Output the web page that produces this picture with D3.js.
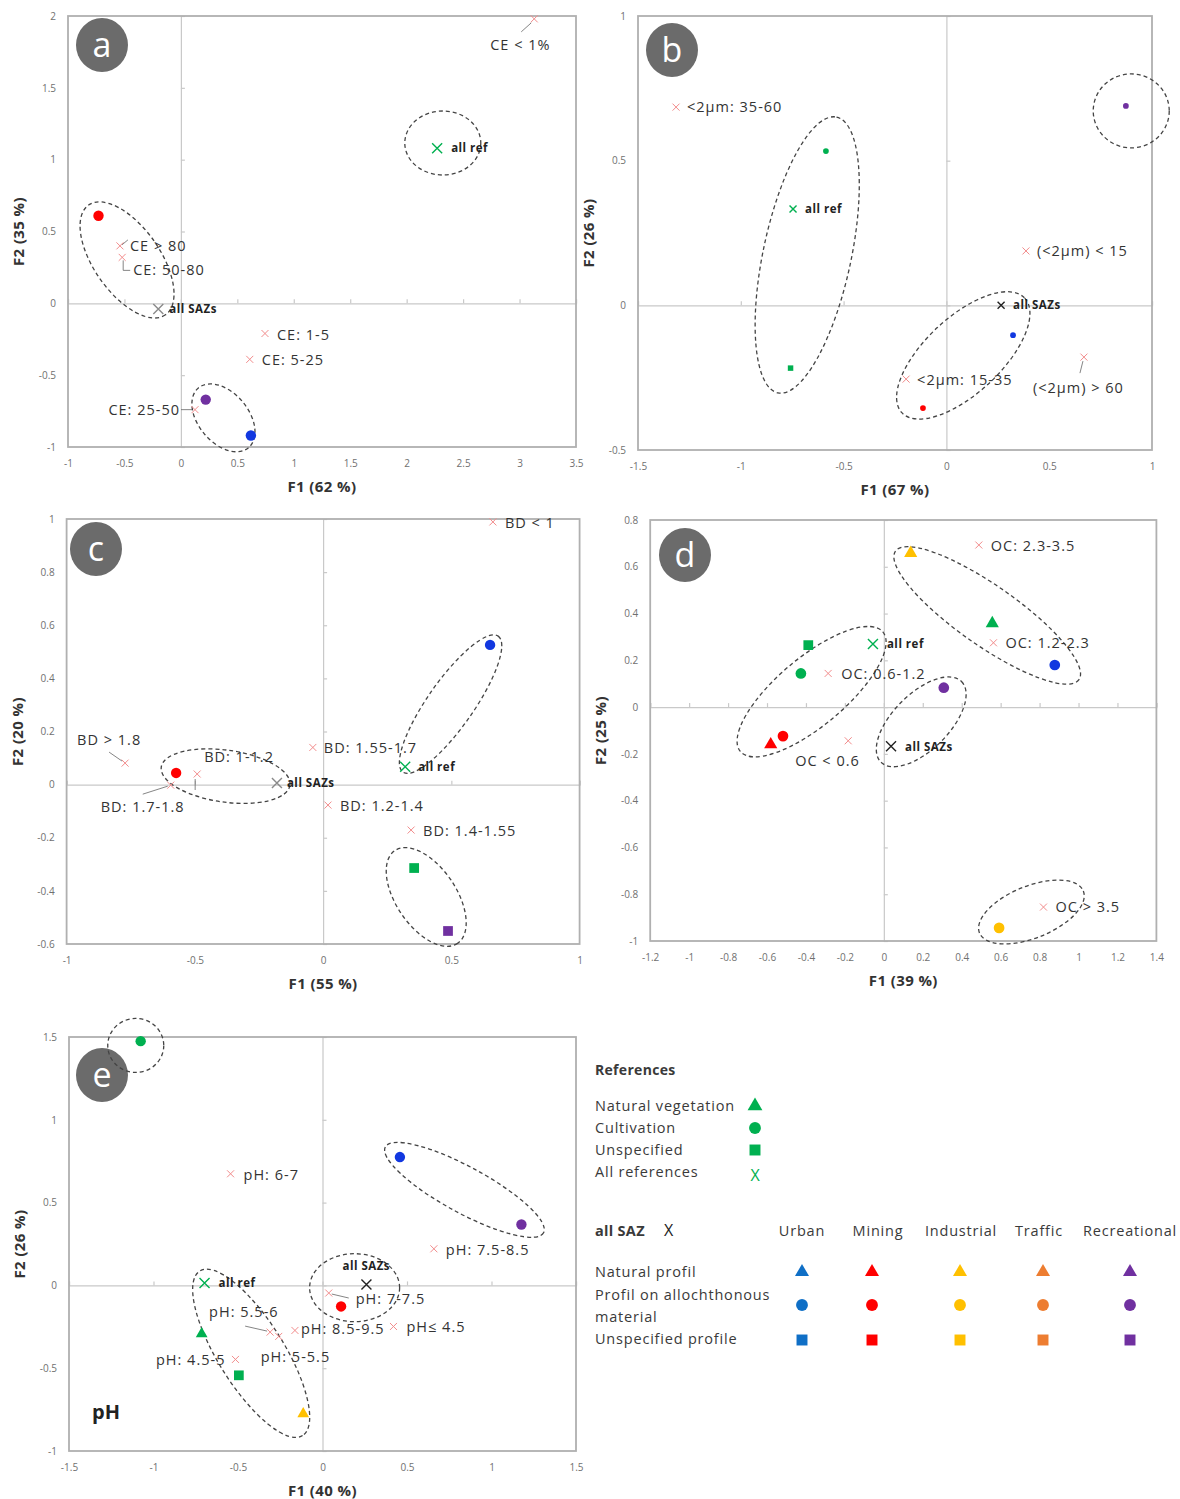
<!DOCTYPE html>
<html><head><meta charset="utf-8">
<script src="https://cdn.jsdelivr.net/npm/d3@7"></script>
<style>
body{margin:0;background:#fff;}
svg text{font-family:'Open Sans',Lato,sans-serif;}
</style>
</head><body>
<svg id="chart" width="1180" height="1499"></svg>
<script>
// ================= DATA =================
// Panel a – CE (%)
const aXTicks = [-1,-0.5,0,0.5,1,1.5,2,2.5,3,3.5];
const aYTicks = [-1,-0.5,0,0.5,1,1.5,2];
const aClasses = [
  {label:'CE < 1%', x:3.13, y:1.98},
  {label:'CE > 80', x:-0.54, y:0.40},
  {label:'CE: 50-80', x:-0.52, y:0.32},
  {label:'CE: 1-5', x:0.745, y:-0.21},
  {label:'CE: 5-25', x:0.61, y:-0.39},
  {label:'CE: 25-50', x:0.125, y:-0.74}
];
const aGroups = [
  {use:'mining', shape:'circle', x:-0.73, y:0.61},
  {use:'recreational', shape:'circle', x:0.22, y:-0.67},
  {use:'urban', shape:'circle', x:0.62, y:-0.92}
];
const aAllRef = {x:2.27, y:1.08};
const aAllSAZ = {x:-0.20, y:-0.04};
const aEllipses = [ {x:-0.477, y:0.302}, {x:2.32, y:1.116}, {x:0.377, y:-0.797} ];

// Panel b – clay <2µm (%)
const bXTicks = [-1.5,-1,-0.5,0,0.5,1];
const bYTicks = [-0.5,0,0.5,1];
const bClasses = [
  {label:'<2µm: 35-60', x:-1.315, y:0.685},
  {label:'(<2µm) < 15', x:0.387, y:0.188},
  {label:'<2µm: 15-35', x:-0.196, y:-0.255},
  {label:'(<2µm) > 60', x:0.669, y:-0.179}
];
const bGroups = [
  {use:'ref', shape:'circle', x:-0.586, y:0.533},
  {use:'ref', shape:'square', x:-0.758, y:-0.217},
  {use:'recreational', shape:'circle', x:0.873, y:0.689},
  {use:'urban', shape:'circle', x:0.324, y:-0.103},
  {use:'mining', shape:'circle', x:-0.114, y:-0.355}
];
const bAllRef = {x:-0.746, y:0.333};
const bAllSAZ = {x:0.266, y:0.0};
const bEllipses = [ {x:-0.677, y:0.174}, {x:0.082, y:-0.173}, {x:0.899, y:0.672} ];

// Panel c – bulk density
const cXTicks = [-1,-0.5,0,0.5,1];
const cYTicks = [-0.6,-0.4,-0.2,0,0.2,0.4,0.6,0.8,1];
const cClasses = [
  {label:'BD < 1', x:0.662, y:0.989},
  {label:'BD > 1.8', x:-0.772, y:0.081},
  {label:'BD: 1-1.2', x:-0.491, y:0.04},
  {label:'BD: 1.7-1.8', x:-0.594, y:-0.002},
  {label:'BD: 1.55-1.7', x:-0.04, y:0.14},
  {label:'BD: 1.2-1.4', x:0.019, y:-0.077},
  {label:'BD: 1.4-1.55', x:0.343, y:-0.171}
];
const cGroups = [
  {use:'urban', shape:'circle', x:0.651, y:0.526},
  {use:'mining', shape:'circle', x:-0.573, y:0.044},
  {use:'ref', shape:'square', x:0.355, y:-0.314},
  {use:'recreational', shape:'square', x:0.487, y:-0.551}
];
const cAllRef = {x:0.32, y:0.067};
const cAllSAZ = {x:-0.18, y:0.006};
const cEllipses = [ {x:-0.380, y:0.032}, {x:0.497, y:0.303}, {x:0.402, y:-0.423} ];

// Panel d – organic carbon
const dXTicks = [-1.2,-1,-0.8,-0.6,-0.4,-0.2,0,0.2,0.4,0.6,0.8,1,1.2,1.4];
const dYTicks = [-1,-0.8,-0.6,-0.4,-0.2,0,0.2,0.4,0.6,0.8];
const dClasses = [
  {label:'OC: 2.3-3.5', x:0.488, y:0.693},
  {label:'OC: 1.2-2.3', x:0.563, y:0.275},
  {label:'OC: 0.6-1.2', x:-0.286, y:0.144},
  {label:'OC < 0.6', x:-0.183, y:-0.144},
  {label:'OC > 3.5', x:0.82, y:-0.855}
];
const dGroups = [
  {use:'industrial', shape:'triangle', x:0.138, y:0.658},
  {use:'ref', shape:'triangle', x:0.557, y:0.358},
  {use:'urban', shape:'circle', x:0.878, y:0.18},
  {use:'ref', shape:'square', x:-0.388, y:0.265},
  {use:'ref', shape:'circle', x:-0.426, y:0.144},
  {use:'recreational', shape:'circle', x:0.308, y:0.083},
  {use:'mining', shape:'circle', x:-0.518, y:-0.124},
  {use:'mining', shape:'triangle', x:-0.581, y:-0.16},
  {use:'industrial', shape:'circle', x:0.592, y:-0.944}
];
const dAllRef = {x:-0.056, y:0.27};
const dAllSAZ = {x:0.037, y:-0.167};
const dEllipses = [ {x:0.531, y:0.392}, {x:-0.371, y:0.066}, {x:0.192, y:-0.063}, {x:0.758, y:-0.876} ];

// Panel e – pH
const eXTicks = [-1.5,-1,-0.5,0,0.5,1,1.5];
const eYTicks = [-1,-0.5,0,0.5,1,1.5];
const eClasses = [
  {label:'pH: 6-7', x:-0.544, y:0.674},
  {label:'pH: 7.5-8.5', x:0.659, y:0.221},
  {label:'pH:  7-7.5', x:0.037, y:-0.046},
  {label:'pH≤ 4.5', x:0.42, y:-0.248},
  {label:'pH: 8.5-9.5', x:-0.163, y:-0.272},
  {label:'pH: 5.5-6', x:-0.31, y:-0.282},
  {label:'pH: 5-5.5', x:-0.259, y:-0.308},
  {label:'pH: 4.5-5', x:-0.515, y:-0.447}
];
const eGroups = [
  {use:'ref', shape:'circle', x:-1.076, y:1.475},
  {use:'urban', shape:'circle', x:0.458, y:0.775},
  {use:'recreational', shape:'circle', x:1.177, y:0.368},
  {use:'mining', shape:'circle', x:0.11, y:-0.127},
  {use:'ref', shape:'triangle', x:-0.715, y:-0.292},
  {use:'ref', shape:'square', x:-0.495, y:-0.543},
  {use:'industrial', shape:'triangle', x:-0.114, y:-0.775}
];
const eAllRef = {x:-0.698, y:0.014};
const eAllSAZ = {x:0.26, y:0.006};
const eEllipses = [ {x:-1.105, y:1.449}, {x:0.840, y:0.577}, {x:0.19, y:-0.014}, {x:-0.422, y:-0.41} ];

// Legend
const refLegend = [ {label:'Natural vegetation', shape:'triangle'}, {label:'Cultivation', shape:'circle'}, {label:'Unspecified', shape:'square'} ];
const useCategories = ['Urban','Mining','Industrial','Traffic','Recreational'];
const useKeys = ['urban','mining','industrial','traffic','recreational'];
const profileRows = [ {label:['Natural profil'], shape:'triangle'}, {label:['Profil on allochthonous','material'], shape:'circle'}, {label:['Unspecified profile'], shape:'square'} ];

// ================= STYLE / LAYOUT =================
const plotColors = {urban:'#1238e0', mining:'#ff0000', industrial:'#ffc000', traffic:'#ed7d31', recreational:'#7030a0', ref:'#00b050'};
const legendColors = {urban:'#0f6fc6', mining:'#ff0000', industrial:'#ffc000', traffic:'#ed7d31', recreational:'#7030a0', ref:'#00b050'};
const pink = '#f28c8c';

const panels = [
  {id:'a', box:[68,16,576,447], xd:[-1,3.5], yd:[-1,2], xt:aXTicks, yt:aYTicks, xTitle:'F1 (62 %)', yTitle:'F2 (35 %)',
   classes:aClasses, groups:aGroups, allRef:aAllRef, allSAZ:aAllSAZ, sazColor:'#8a8a8a', ells:aEllipses,
   ellShape:[[67,33,55],[38,32,0],[39,25,50]], badge:[102,45], msize:{circle:85,triangle:70,square:90},
   lab:{'CE < 1%':[-44,31,'start',[[-3,4],[-13,13]]], 'CE > 80':[10,5,'start',[[2,-1],[8,-6]]], 'CE: 50-80':[11,18,'start',[[1,3],[1,13],[8,13]]],
        'CE: 1-5':[12,6], 'CE: 5-25':[12,6], 'CE: 25-50':[-15,5,'end',[[-3,0],[-14,0]]]},
   refLab:[14,4], sazLab:[11,4]},
  {id:'b', box:[638,16,1152,450], xd:[-1.5,1], yd:[-0.5,1], xt:bXTicks, yt:bYTicks, xTitle:'F1 (67 %)', yTitle:'F2 (26 %)',
   classes:bClasses, groups:bGroups, allRef:bAllRef, allSAZ:bAllSAZ, sazColor:'#222', ells:bEllipses,
   ellShape:[[141,44,-78],[84,38,-43],[38,37,0]], badge:[672,50], msize:{circle:26,triangle:30,square:30},
   lab:{'<2µm: 35-60':[11,5], '(<2µm) < 15':[11,5], '<2µm: 15-35':[11,6], '(<2µm) > 60':[-51,36,'start',[[-1,4],[-4,16]]]},
   refLab:[12,4], sazLab:[12,4], smallX:true},
  {id:'c', box:[66.6,519,579.6,944], xd:[-1,1], yd:[-0.6,1], xt:cXTicks, yt:cYTicks, xTitle:'F1 (55 %)', yTitle:'F2 (20 %)',
   classes:cClasses, groups:cGroups, allRef:cAllRef, allSAZ:cAllSAZ, sazColor:'#8a8a8a', ells:cEllipses,
   ellShape:[[65,26,8],[83,23,-55],[56,30,56]], badge:[96,549], msize:{circle:85,triangle:70,square:95},
   lab:{'BD < 1':[12,6], 'BD > 1.8':[-48,-18,'start',[[-3,-2],[-16,-11]]], 'BD: 1-1.2':[7,-12,'start',[[-2,5],[-2,16]]],
        'BD: 1.7-1.8':[-70,27,'start',[[-3,1],[-28,9]]], 'BD: 1.55-1.7':[11,6], 'BD: 1.2-1.4':[12,6], 'BD: 1.4-1.55':[12,6]},
   refLab:[13,4], sazLab:[10,4]},
  {id:'d', box:[650.2,520,1156.4,941], xd:[-1.2,1.4], yd:[-1,0.8], xt:dXTicks, yt:dYTicks, xTitle:'F1 (39 %)', yTitle:'F2 (25 %)',
   classes:dClasses, groups:dGroups, allRef:dAllRef, allSAZ:dAllSAZ, sazColor:'#222', ells:dEllipses,
   ellShape:[[112,30,35],[93,34,-40],[57,28,-45],[56,26,-22]], badge:[685,555], msize:{circle:90,triangle:75,square:95},
   lab:{'OC: 2.3-3.5':[12,6], 'OC: 1.2-2.3':[12,5], 'OC: 0.6-1.2':[13,6], 'OC < 0.6':[-53,25], 'OC > 3.5':[12,5]},
   refLab:[14,4], sazLab:[14,5]},
  {id:'e', box:[69,1037,576,1451], xd:[-1.5,1.5], yd:[-1,1.5], xt:eXTicks, yt:eYTicks, xTitle:'F1 (40 %)', yTitle:'F2 (26 %)',
   classes:eClasses, groups:eGroups, allRef:eAllRef, allSAZ:eAllSAZ, sazColor:'#222', ells:eEllipses,
   ellShape:[[28,27,0],[90,23,28.5],[45,34,0],[97,33,58]], badge:[102,1075], msize:{circle:85,triangle:60,square:95},
   lab:{'pH: 6-7':[13,6], 'pH: 7.5-8.5':[12,6], 'pH:  7-7.5':[27,11,'start',[[3,1],[20,5]]], 'pH≤ 4.5':[13,6],
        'pH: 8.5-9.5':[6,4], 'pH: 5.5-6':[-61,-15,'start',[[-3,-1],[-25,-6]]], 'pH: 5-5.5':[-18,26], 'pH: 4.5-5':[-10,6,'end']},
   refLab:[14,4], sazLab:[-24,-14], extra:'pH'}
];

const svg = d3.select('#chart');
const symType = {circle:d3.symbolCircle, triangle:d3.symbolTriangle, square:d3.symbolSquare};
const fmt = v => String(Math.round(v*10)/10);

function xMark(g, cx, cy, r, color, w){
  g.append('path').attr('d',`M${cx-r},${cy-r}L${cx+r},${cy+r}M${cx-r},${cy+r}L${cx+r},${cy-r}`)
    .attr('stroke',color).attr('stroke-width',w).attr('fill','none');
}

panels.forEach(p => {
  const [L,T,R,B] = p.box;
  const x = d3.scaleLinear().domain(p.xd).range([L,R]);
  const y = d3.scaleLinear().domain(p.yd).range([B,T]);
  const g = svg.append('g');

  // zero axes with cross ticks
  const zx = g.append('g').attr('transform',`translate(0,${y(0)})`);
  zx.call(d3.axisBottom(x).tickValues(p.xt).tickSize(4).tickFormat(''));
  zx.call(d3.axisTop(x).tickValues(p.xt).tickSize(4).tickFormat(''));
  const zy = g.append('g').attr('transform',`translate(${x(0)},0)`);
  zy.call(d3.axisLeft(y).tickValues(p.yt).tickSize(4).tickFormat(''));
  zy.call(d3.axisRight(y).tickValues(p.yt).tickSize(4).tickFormat(''));
  g.selectAll('.domain, .tick line').attr('stroke','#c9c9c9').attr('stroke-width',1.2);

  // box
  g.append('rect').attr('x',L).attr('y',T).attr('width',R-L).attr('height',B-T)
    .attr('fill','none').attr('stroke','#b0b0b0').attr('stroke-width',1.8);

  // tick labels
  const bx = g.append('g').attr('transform',`translate(0,${B})`)
    .call(d3.axisBottom(x).tickValues(p.xt).tickSize(0).tickPadding(13).tickFormat(fmt));
  const ly = g.append('g').attr('transform',`translate(${L},0)`)
    .call(d3.axisLeft(y).tickValues(p.yt).tickSize(0).tickPadding(12).tickFormat(fmt));
  [bx,ly].forEach(a=>{ a.select('.domain').remove(); a.selectAll('text').attr('font-size',10).attr('fill','#707070').attr('font-family','Lato'); });

  // axis titles
  g.append('text').attr('x',(L+R)/2).attr('y',B+45).attr('text-anchor','middle').attr('letter-spacing',0.4)
    .attr('font-size',15).attr('font-weight','bold').attr('fill','#333').text(p.xTitle);
  g.append('text').attr('transform',`translate(${L-44},${(T+B)/2}) rotate(-90)`).attr('text-anchor','middle').attr('letter-spacing',0.4)
    .attr('font-size',15).attr('font-weight','bold').attr('fill','#333').text(p.yTitle);

  // badge
  g.append('ellipse').attr('cx',p.badge[0]).attr('cy',p.badge[1]).attr('rx',26).attr('ry',27).attr('fill','#6b6b6b');
  g.append('text').attr('x',p.badge[0]).attr('y',p.badge[1]+12).attr('text-anchor','middle')
    .attr('font-size',34).attr('font-family','Lato').attr('fill','#fff').text(p.id);

  // dashed ellipses
  p.ells.forEach((e,i)=>{
    const [a,b,rot] = p.ellShape[i];
    g.append('ellipse').attr('transform',`translate(${x(e.x)},${y(e.y)}) rotate(${rot})`)
      .attr('rx',a).attr('ry',b).attr('fill','none').attr('stroke','#444').attr('stroke-width',1.3)
      .attr('stroke-dasharray','4,3');
  });

  // class points (pink crosses) with labels
  p.classes.forEach(c=>{
    const cx = x(c.x), cy = y(c.y);
    xMark(g, cx, cy, 3.5, pink, 1);
    const l = p.lab[c.label] || [11,5];
    if (l[3]) {
      g.append('path').attr('d', 'M' + l[3].map(q=>[cx+q[0],cy+q[1]].join(',')).join('L'))
        .attr('fill','none').attr('stroke','#666').attr('stroke-width',0.8);
    }
    g.append('text').attr('x',cx+l[0]).attr('y',cy+l[1]).attr('text-anchor',l[2]||'start')
      .attr('font-size',14.5).attr('letter-spacing',1).attr('fill','#333').text(c.label);
  });

  // land-use / reference group points
  p.groups.forEach(d=>{
    g.append('path').attr('d', d3.symbol(symType[d.shape], p.msize[d.shape])())
      .attr('transform',`translate(${x(d.x)},${y(d.y)})`).attr('fill',plotColors[d.use]);
  });

  // all ref / all SAZs
  const xr = p.smallX ? 3.5 : 5;
  xMark(g, x(p.allRef.x), y(p.allRef.y), xr, '#00b050', 1.4);
  g.append('text').attr('x',x(p.allRef.x)+p.refLab[0]).attr('y',y(p.allRef.y)+p.refLab[1]).attr('letter-spacing',0.5)
    .attr('font-size',11.5).attr('font-weight','bold').attr('fill','#222').text('all ref');
  xMark(g, x(p.allSAZ.x), y(p.allSAZ.y), xr, p.sazColor, 1.4);
  g.append('text').attr('x',x(p.allSAZ.x)+p.sazLab[0]).attr('y',y(p.allSAZ.y)+p.sazLab[1]).attr('letter-spacing',0.5)
    .attr('font-size',11.5).attr('font-weight','bold').attr('fill','#222').text('all SAZs');

  if (p.extra) {
    g.append('text').attr('x',L+23).attr('y',B-32).attr('font-size',20).attr('font-weight','bold')
      .attr('fill','#222').text(p.extra);
  }
});

// ================= LEGEND =================
const lg = svg.append('g');
const txt = (x0,y0,s,opt={}) => lg.append('text').attr('x',x0).attr('y',y0).attr('font-size',opt.size||14.5)
  .attr('letter-spacing', opt.ls===undefined?0.8:opt.ls)
  .attr('font-weight',opt.bold?'bold':'normal').attr('fill',opt.fill||'#3a3a3a').attr('text-anchor',opt.anchor||'start').text(s);

txt(595,1075,'References',{bold:true,size:14,ls:0.3});
const refY = d3.scaleLinear().domain([0,3]).range([1111,1177]);
refLegend.forEach((r,i)=>{
  txt(595, refY(i), r.label);
  lg.append('path').attr('d', d3.symbol(symType[r.shape], r.shape==='circle'?110:r.shape==='square'?120:95)())
    .attr('transform',`translate(755,${refY(i)-5})`).attr('fill',legendColors.ref);
});
txt(595, refY(3), 'All references');
txt(755, refY(3)+4, 'X', {anchor:'middle', fill:'#00b050', size:16, ls:0});

txt(595,1236,'all SAZ',{bold:true,size:14.5,ls:0.3});
txt(664,1236,'X',{size:16,fill:'#222',ls:0});
const colCenters = {urban:802, mining:872, industrial:960, traffic:1043, recreational:1130};
const headCenters = [802,878,961,1039,1130];
useCategories.forEach((u,i)=> txt(headCenters[i],1236,u,{anchor:'middle'}));
const rowBase = [1277,1300,1344];
const rowMarkY = [1272,1305,1340];
profileRows.forEach((r,i)=>{
  r.label.forEach((s,j)=> txt(595, rowBase[i]+j*22, s));
  useKeys.forEach(k=>{
    lg.append('path').attr('d', d3.symbol(symType[r.shape], r.shape==='circle'?110:r.shape==='square'?120:85)())
      .attr('transform',`translate(${colCenters[k]},${rowMarkY[i]})`).attr('fill',legendColors[k]);
  });
});
</script>
</body></html>
